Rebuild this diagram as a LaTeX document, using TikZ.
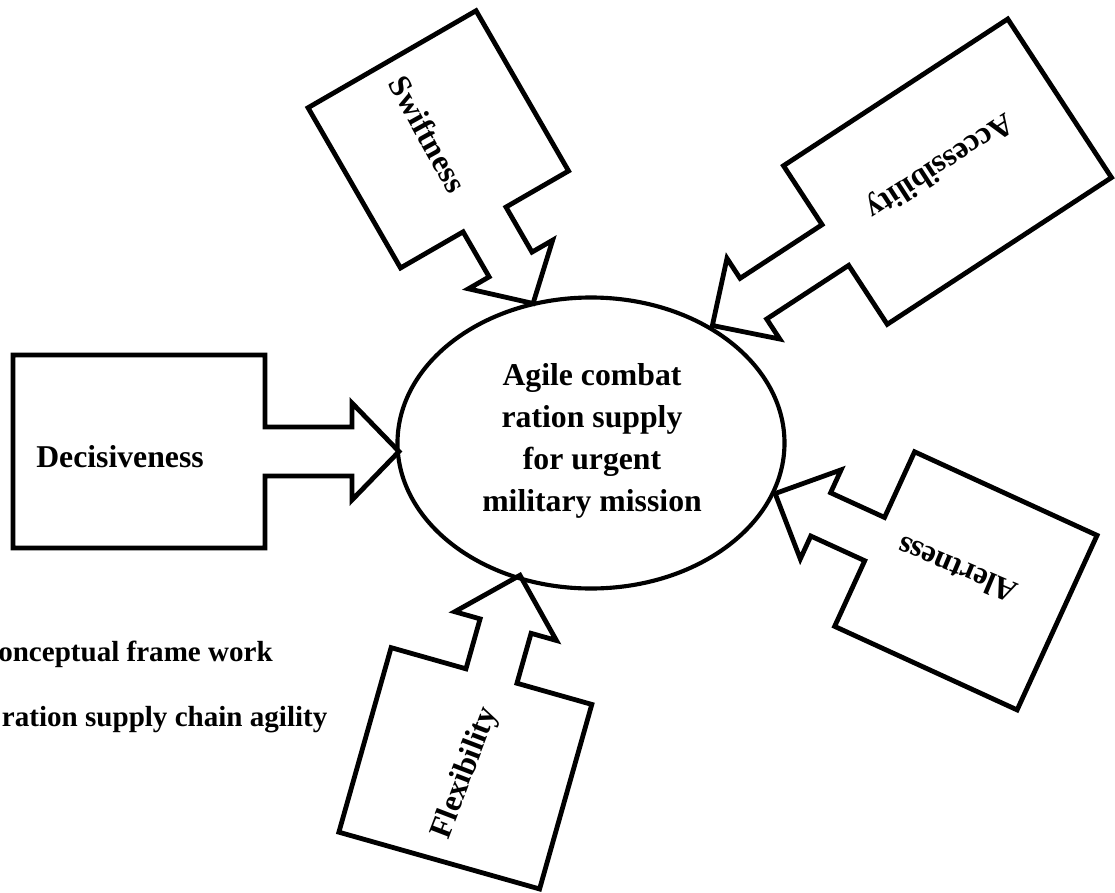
\documentclass[tikz,border=0pt]{standalone}
\usepackage{fontspec}
\setmainfont{Liberation Serif}
\usetikzlibrary{shapes.geometric}

% Block arrow callout: a box with a shaft and a triangular head.
% #1,#2 centre of the box, #3 direction (degrees, clockwise on the page),
% #4 box length along the arrow, #5 box width, #6 shaft length,
% #7 head length, #8 shaft half width, #9 head half width
\newcommand{\blockcallout}[9]{%
  \begin{scope}[shift={(#1,#2)}, rotate={-(#3)}]
    \draw[calloutline]
      ({-#4/2},{-#5/2}) -- ({#4/2},{-#5/2}) -- ({#4/2},{-#8})
      -- ({#4/2+#6},{-#8}) -- ({#4/2+#6},{-#9}) -- ({#4/2+#6+#7},0)
      -- ({#4/2+#6},{#9}) -- ({#4/2+#6},{#8}) -- ({#4/2},{#8})
      -- ({#4/2},{#5/2}) -- ({-#4/2},{#5/2}) -- cycle;
  \end{scope}}

\begin{document}
\begin{tikzpicture}[x=0.75pt, y=-0.75pt,
  calloutline/.style={line width=3.6pt, line join=miter},
  lbl/.style={font=\fontsize{23.8}{31.5}\selectfont\bfseries, inner sep=0pt, text depth=0pt},
  note/.style={font=\fontsize{21.8}{26}\selectfont\bfseries, inner sep=0pt, anchor=base west},
  goal/.style={ellipse, draw, line width=3.1pt, minimum width=290.25pt,
    minimum height=218.25pt, inner sep=0pt}]
\useasboundingbox (0,0) rectangle (1115,893);

% central goal
\node[goal] (goal) at (591,443) {};
\node[lbl, align=center] (goaltext) at (592,437.5)
  {Agile combat\\ration supply\\for urgent\\military mission};

% the five agility factors
\blockcallout{139}{451.5}{0}{252}{193}{87}{47}{24.5}{48.5}
\node[lbl, anchor=base west] (decisiveness) at (36,467) {Decisiveness};

\blockcallout{438.3}{139.35}{60}{185}{194}{52}{45}{24.75}{48.6}
\node[lbl, rotate=-61] (swiftness) at (428,134) {Swiftness};

\blockcallout{947.5}{171.65}{146.8}{268}{189.5}{98}{49}{24.3}{48.2}
\node[lbl, rotate=-147] (accessibility) at (941,168) {Accessibility};

\blockcallout{965.85}{580.85}{204.6}{200.7}{192}{59.3}{50.1}{23.8}{49}
\node[lbl, rotate=157.2] (alertness) at (957,570) {Alertness};

\blockcallout{465.35}{768.3}{-74.2}{191.8}{208.6}{51.9}{52.8}{26.5}{52.8}
\node[lbl, rotate=69] (flexibility) at (462.5,772) {Flexibility};

% caption lines
\node[note] (cap1) at (-2,661.7) {onceptual frame work};
\node[note] (cap2) at (1.7,726.7) {ration supply chain agility};
\end{tikzpicture}
\end{document}
